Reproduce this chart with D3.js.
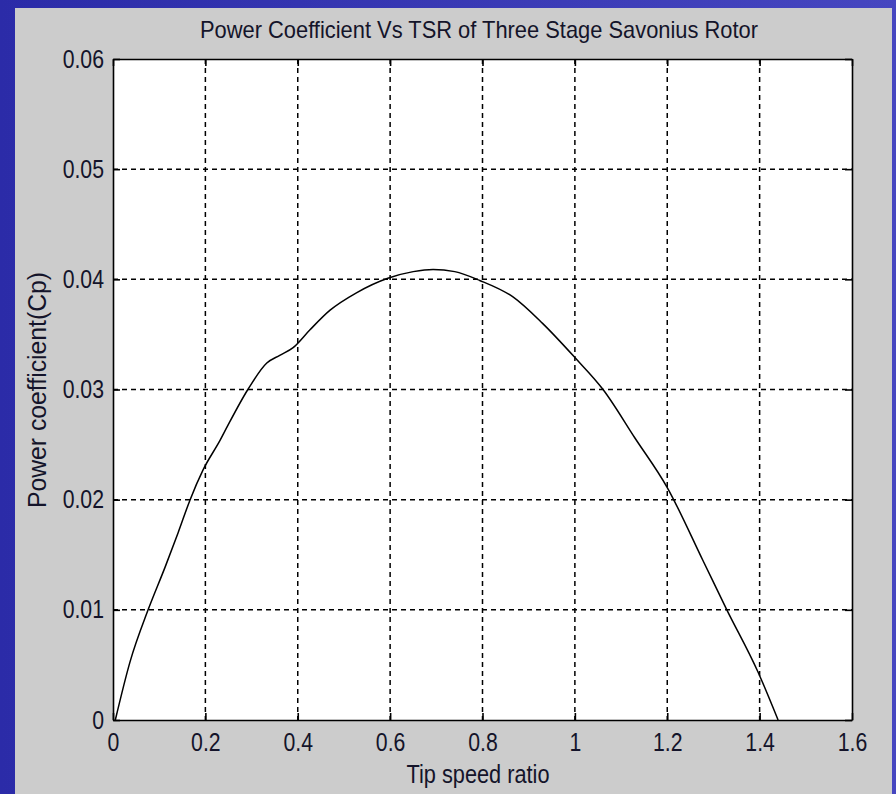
<!DOCTYPE html>
<html>
<head>
<meta charset="utf-8">
<script src="https://cdn.jsdelivr.net/npm/d3@7"></script>
<style>
  html, body { margin: 0; padding: 0; }
  body { width: 896px; height: 794px; overflow: hidden; }
  text { font-family: "Liberation Sans", Arial, sans-serif; fill: #14142a; }
</style>
</head>
<body>
<div id="svg-container"></div>
<script>
// data
const tsr = [0.005, 0.037, 0.076, 0.113, 0.141, 0.167, 0.195, 0.232, 0.247, 0.292,
  0.333, 0.361, 0.39, 0.426, 0.47, 0.528, 0.595, 0.65, 0.693, 0.74,
  0.794, 0.866, 0.93, 1.0, 1.061, 1.13, 1.2, 1.277, 1.329, 1.396, 1.44];
const cp = [0, 0.0053, 0.01, 0.0139, 0.017, 0.02, 0.0227, 0.0254, 0.0266, 0.030,
  0.0324, 0.0331, 0.0338, 0.0354, 0.0372, 0.0388, 0.0401, 0.0407, 0.0409, 0.0407,
  0.0399, 0.0384, 0.036, 0.0329, 0.030, 0.0256, 0.0211, 0.0145, 0.01, 0.0044, 0];

const xTicks = [0, 0.2, 0.4, 0.6, 0.8, 1, 1.2, 1.4, 1.6];
const xTickLabels = ["0", "0.2", "0.4", "0.6", "0.8", "1", "1.2", "1.4", "1.6"];
const yTicks = [0, 0.01, 0.02, 0.03, 0.04, 0.05, 0.06];
const yTickLabels = ["0", "0.01", "0.02", "0.03", "0.04", "0.05", "0.06"];

const titleText = "Power Coefficient Vs TSR of Three Stage Savonius Rotor";
const xLabelText = "Tip speed ratio";
const yLabelText = "Power coefficient(Cp)";

////////////////////////////  Init  ///////////////////////////////
const width = 896;
const height = 794;
const margin = { top: 59, right: 44, bottom: 74, left: 113 };

const svg = d3.select("#svg-container").append("svg")
  .attr("width", width)
  .attr("height", height);

// blue slide background
const grad = svg.append("defs").append("linearGradient")
  .attr("id", "bg").attr("x1", 0).attr("x2", 1).attr("y1", 0).attr("y2", 0);
grad.append("stop").attr("offset", "0%").attr("stop-color", "#2b2ba8");
grad.append("stop").attr("offset", "100%").attr("stop-color", "#4646c0");
svg.append("rect").attr("width", width).attr("height", height).attr("fill", "url(#bg)");

// matlab figure panel
svg.append("rect")
  .attr("x", 15).attr("y", 8)
  .attr("width", 877).attr("height", height - 8)
  .attr("fill", "#cccccc");

const x = d3.scaleLinear().domain([0, 1.6]).range([margin.left, width - margin.right]);
const y = d3.scaleLinear().domain([0, 0.06]).range([height - margin.bottom, margin.top]);

// plot area
svg.append("rect")
  .attr("x", x(0)).attr("y", y(0.06))
  .attr("width", x(1.6) - x(0)).attr("height", y(0) - y(0.06))
  .attr("fill", "#fff");

// grid
const grid = svg.append("g").attr("stroke", "#000").attr("stroke-width", 1.5)
  .attr("stroke-dasharray", "5,4");
grid.selectAll(".gx").data(xTicks.slice(1, -1)).enter().append("line")
  .attr("x1", (d) => x(d)).attr("x2", (d) => x(d))
  .attr("y1", y(0.06)).attr("y2", y(0));
grid.selectAll(".gy").data(yTicks.slice(1, -1)).enter().append("line")
  .attr("y1", (d) => y(d)).attr("y2", (d) => y(d))
  .attr("x1", x(0)).attr("x2", x(1.6));

// axes (ticks inside, box on)
const fs = 25;
const xAxis = d3.axisBottom(x).tickValues(xTicks)
  .tickFormat((d, i) => xTickLabels[i]).tickSizeInner(-7).tickSizeOuter(0).tickPadding(13);
const yAxis = d3.axisLeft(y).tickValues(yTicks)
  .tickFormat((d, i) => yTickLabels[i]).tickSizeInner(-7).tickSizeOuter(0).tickPadding(9);

const gx = svg.append("g").attr("transform", `translate(0,${y(0)})`).call(xAxis);
const gy = svg.append("g").attr("transform", `translate(${x(0)},0)`).call(yAxis);
svg.append("g").attr("transform", `translate(0,${y(0.06)})`)
  .call(d3.axisTop(x).tickValues(xTicks).tickFormat("").tickSizeInner(-7).tickSizeOuter(0));
svg.append("g").attr("transform", `translate(${x(1.6)},0)`)
  .call(d3.axisRight(y).tickValues(yTicks).tickFormat("").tickSizeInner(-7).tickSizeOuter(0));

svg.selectAll(".domain").attr("stroke", "#000").attr("stroke-width", 1.6);
svg.selectAll(".tick line").attr("stroke", "#000").attr("stroke-width", 1.6);
svg.selectAll(".tick text")
  .style("font-family", "'Liberation Sans', Arial, sans-serif")
  .style("font-size", fs + "px")
  .attr("fill", "#14142a");
gx.selectAll(".tick text").attr("transform", "scale(0.85,1)");
gy.selectAll(".tick text")
  .attr("x", 0)
  .attr("transform", "translate(-9,0) scale(0.85,1)");

// curve
const line = d3.line()
  .x((d, i) => x(tsr[i]))
  .y((d) => y(d))
  .curve(d3.curveMonotoneX);
svg.append("path")
  .datum(cp)
  .attr("d", line)
  .attr("fill", "none")
  .attr("stroke", "#000")
  .attr("stroke-width", 1.5);

// title and labels
svg.append("text")
  .attr("x", 479).attr("y", 38)
  .style("text-anchor", "middle")
  .style("font-size", "24px")
  .attr("textLength", 558).attr("lengthAdjust", "spacingAndGlyphs")
  .text(titleText);

svg.append("text")
  .attr("x", 478).attr("y", 783)
  .style("text-anchor", "middle")
  .style("font-size", "25px")
  .attr("textLength", 143).attr("lengthAdjust", "spacingAndGlyphs")
  .text(xLabelText);

svg.append("text")
  .attr("transform", `translate(46,390) rotate(-90)`)
  .style("text-anchor", "middle")
  .style("font-size", "25px")
  .attr("textLength", 236).attr("lengthAdjust", "spacingAndGlyphs")
  .text(yLabelText);
</script>
</body>
</html>
